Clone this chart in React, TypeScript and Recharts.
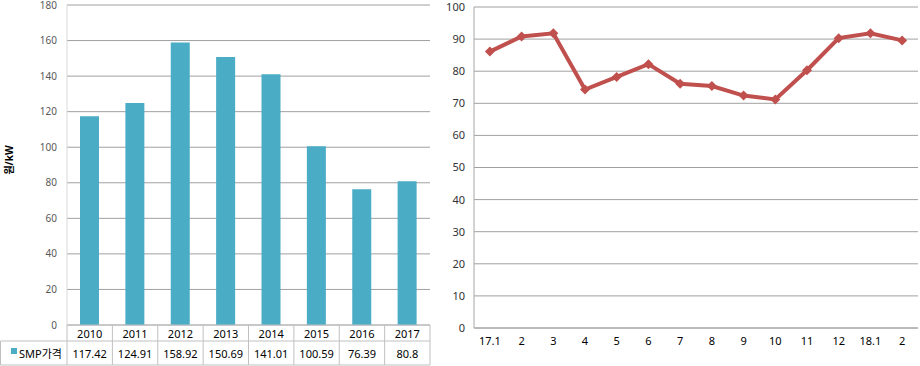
import { BarChart, Bar, LineChart, Line, XAxis, YAxis, CartesianGrid } from "recharts";

// annual SMP price (원/kW)
const years = ["2010", "2011", "2012", "2013", "2014", "2015", "2016", "2017"];
const smpPrice = [117.42, 124.91, 158.92, 150.69, 141.01, 100.59, 76.39, 80.8];
const priceTicks = [0, 20, 40, 60, 80, 100, 120, 140, 160, 180];

// monthly SMP, 17.1 ~ 18.2
const months = ["17.1", "2", "3", "4", "5", "6", "7", "8", "9", "10", "11", "12", "18.1", "2"];
const monthlySmp = [86.1, 90.8, 91.8, 74.3, 78.2, 82.2, 76.1, 75.4, 72.4, 71.2, 80.3, 90.3, 91.8, 89.6];
const monthTicks = [0, 10, 20, 30, 40, 50, 60, 70, 80, 90, 100];

const barData = years.map((year, i) => ({ year, smp: smpPrice[i] }));
const lineData = months.map((month, i) => ({ month, smp: monthlySmp[i] }));

const FONT = '"Noto Sans", "Noto Sans CJK KR", sans-serif';
const GRID = "#a0a0a0";
const TABLE_LINE = "#c0c0c0";
const BAR_COLOR = "#4bacc6";
const LINE_COLOR = "#c0504d";

const LEFT_W = 440;
const LEFT_AXIS_W = 67;
const LEFT_MR = 10;
const BAND = (LEFT_W - LEFT_AXIS_W - LEFT_MR) / years.length;

const RIGHT_W = 480;
const RIGHT_AXIS_W = 34;
const RIGHT_MR = 2;
// half a category on each side so the points sit in the middle of their slots
const RIGHT_PAD = (RIGHT_W - RIGHT_AXIS_W - RIGHT_MR) / months.length / 2;

// x-axis tick that also draws the data table under the bars
function TableTick(props: any) {
  const { x, y, payload } = props;
  const i = payload.index;
  const half = BAND / 2;
  const rowY = y + 16;
  const bottom = y + 40;
  return (
    <g>
      {i === 0 && <line x1={x - half} y1={y} x2={x - half} y2={bottom} stroke={TABLE_LINE} />}
      <line x1={x + half} y1={y} x2={x + half} y2={bottom} stroke={TABLE_LINE} />
      <line x1={x - half} y1={rowY} x2={x + half} y2={rowY} stroke={TABLE_LINE} />
      <line x1={x - half} y1={bottom} x2={x + half} y2={bottom} stroke={TABLE_LINE} />
      <text x={x} y={y + 8.5} textAnchor="middle" dominantBaseline="central" fontSize={11} fill="#000" fontFamily={FONT}>
        {payload.value}
      </text>
      <text x={x} y={y + 28.5} textAnchor="middle" dominantBaseline="central" fontSize={11} fill="#000" fontFamily={FONT}>
        {String(smpPrice[i])}
      </text>
      {i === 0 && (
        <g>
          <line x1={0.5} y1={rowY} x2={x - half} y2={rowY} stroke={TABLE_LINE} />
          <line x1={0.5} y1={bottom} x2={x - half} y2={bottom} stroke={TABLE_LINE} />
          <line x1={0.5} y1={rowY} x2={0.5} y2={bottom} stroke={TABLE_LINE} />
          <rect x={11} y={y + 23} width={6} height={6} fill={BAR_COLOR} />
          <text x={19} y={y + 28.5} dominantBaseline="central" fontSize={11} fill="#000" fontFamily={FONT}>
            SMP가격
          </text>
        </g>
      )}
    </g>
  );
}

function Diamond(props: any) {
  const { cx, cy, index } = props;
  const r = 5;
  return (
    <polygon
      key={index}
      points={`${cx},${cy - r} ${cx + r},${cy} ${cx},${cy + r} ${cx - r},${cy}`}
      fill={LINE_COLOR}
    />
  );
}

export default function App() {
  return (
    <div style={{ position: "absolute", left: 0, top: 0, width: 920, height: 366, display: "flex", background: "#fff" }}>
      <BarChart width={LEFT_W} height={366} data={barData} margin={{ top: 5, right: LEFT_MR, left: 0, bottom: 0 }}>
        <CartesianGrid vertical={false} stroke={GRID} />
        <XAxis
          dataKey="year"
          height={41}
          axisLine={{ stroke: TABLE_LINE }}
          tickLine={false}
          tickSize={0}
          tickMargin={0}
          interval={0}
          tick={<TableTick />}
        />
        <YAxis
          width={LEFT_AXIS_W}
          domain={[0, 180]}
          ticks={priceTicks}
          axisLine={{ stroke: "#d9d9d9" }}
          tickLine={false}
          tickSize={0}
          tickMargin={10}
          tick={{ fontSize: 10, fill: "#595959", fontFamily: FONT }}
        />
        <Bar dataKey="smp" fill={BAR_COLOR} barSize={19} isAnimationActive={false} />
        <text
          x={9}
          y={160}
          transform="rotate(-90 9 160)"
          textAnchor="middle"
          dominantBaseline="central"
          fontSize={10}
          fontWeight="bold"
          fill="#000"
          fontFamily={FONT}
        >
          원/kW
        </text>
      </BarChart>
      <LineChart width={RIGHT_W} height={366} data={lineData} margin={{ top: 7, right: RIGHT_MR, left: 0, bottom: 0 }}>
        <CartesianGrid vertical={false} stroke={GRID} />
        <XAxis
          dataKey="month"
          height={38}
          padding={{ left: RIGHT_PAD, right: RIGHT_PAD }}
          axisLine={{ stroke: "#a6a6a6" }}
          tickLine={false}
          tickSize={0}
          tickMargin={9}
          interval={0}
          tick={{ fontSize: 11, fill: "#000", fontFamily: FONT }}
        />
        <YAxis
          width={RIGHT_AXIS_W}
          domain={[0, 100]}
          ticks={monthTicks}
          axisLine={{ stroke: "#a6a6a6" }}
          tickLine={false}
          tickSize={0}
          tickMargin={9}
          tick={{ fontSize: 11, fill: "#333", fontFamily: FONT }}
        />
        <Line
          type="linear"
          dataKey="smp"
          stroke={LINE_COLOR}
          strokeWidth={4}
          dot={<Diamond />}
          activeDot={false}
          isAnimationActive={false}
        />
      </LineChart>
    </div>
  );
}
